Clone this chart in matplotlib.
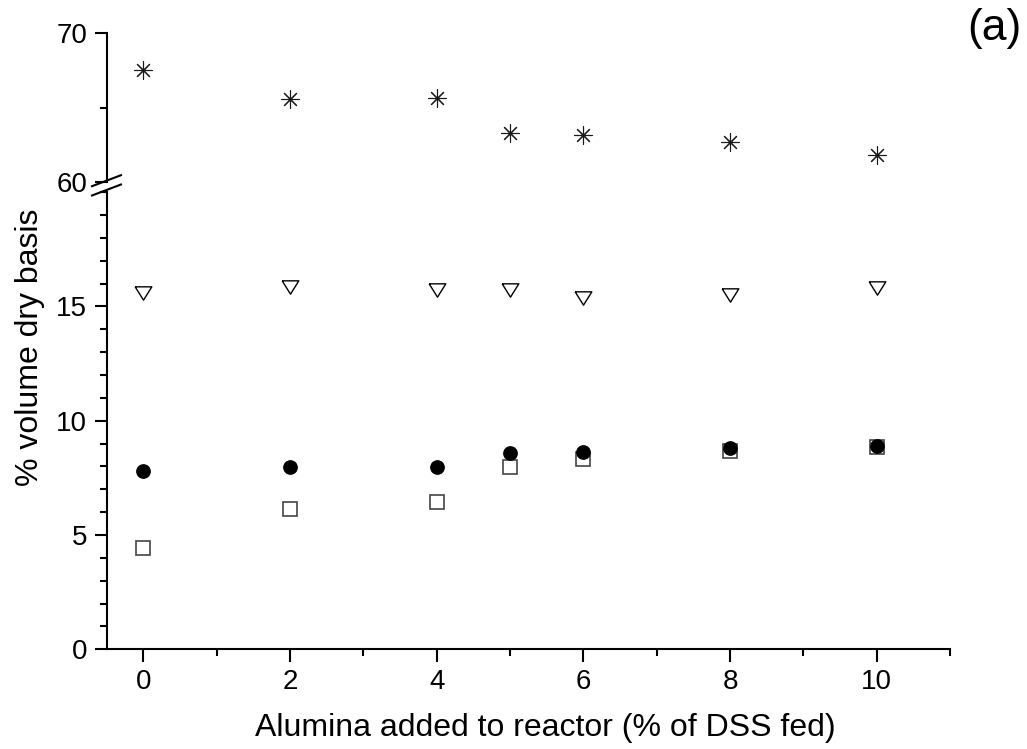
import numpy as np
import matplotlib.pyplot as plt
from matplotlib.lines import Line2D
from matplotlib.ticker import MultipleLocator

plt.rcParams['font.family'] = ['Liberation Sans', 'DejaVu Sans']

# Data
alumina = [0, 2, 4, 5, 6, 8, 10]
stars = [67.53, 65.55, 65.62, 63.26, 63.15, 62.65, 61.80]
triangles = [15.60, 15.83, 15.72, 15.70, 15.35, 15.49, 15.79]
circles = [7.81, 7.99, 7.99, 8.57, 8.62, 8.79, 8.91]
squares = [4.42, 6.14, 6.46, 7.99, 8.34, 8.68, 8.83]

W, H = 1027, 749
fig = plt.figure(figsize=(W / 100, H / 100), dpi=100)

# axes placement in pixels
x0, x1 = 106.7, 950.0
lo_bot, lo_top = 649.3, 192.1
up_bot, up_top = 181.7, 33.3

ax_lo = fig.add_axes([x0 / W, 1 - lo_bot / H, (x1 - x0) / W, (lo_bot - lo_top) / H])
ax_up = fig.add_axes([x0 / W, 1 - up_bot / H, (x1 - x0) / W, (up_bot - up_top) / H],
                     sharex=ax_lo)

tri_marker = [(-1, 0.8), (1, 0.8), (0, -0.8), (-1, 0.8)]

ax_up.plot(alumina, stars, linestyle='none', marker=(8, 2, 0), ms=13,
           mec='#1a1a1a', mew=0.8, clip_on=False)
ax_lo.plot(alumina, triangles, linestyle='none', marker=tri_marker, ms=12,
           mfc='white', mec='black', mew=1.0, clip_on=False)
ax_lo.plot(alumina, squares, linestyle='none', marker='s', ms=10,
           mfc='white', mec='#444444', mew=1.2, clip_on=False)
ax_lo.plot(alumina, circles, linestyle='none', marker='o', ms=9.6,
           color='black', clip_on=False)

ax_lo.set_xlim(-0.5, 11)
ax_lo.set_ylim(0, 20)
ax_up.set_ylim(60, 70)

for ax in (ax_lo, ax_up):
    ax.spines['top'].set_visible(False)
    ax.spines['right'].set_visible(False)
    for s in ax.spines.values():
        s.set_linewidth(1.5)
    ax.tick_params(which='major', direction='out', length=9, width=1.5,
                   labelsize=20, pad=5)
    ax.tick_params(which='minor', direction='out', length=5, width=1.5)

ax_up.spines['bottom'].set_visible(False)
ax_up.tick_params(axis='x', which='both', bottom=False, labelbottom=False)

ax_lo.xaxis.set_minor_locator(MultipleLocator(1))
ax_lo.set_xticks([0, 2, 4, 6, 8, 10])
ax_lo.set_yticks([0, 5, 10, 15])
ax_lo.yaxis.set_minor_locator(MultipleLocator(1))
ax_up.set_yticks([60, 70])
ax_up.yaxis.set_minor_locator(MultipleLocator(5))
ax_up.set_facecolor('none')

# break marks on the y axis
for yc in (180.7, 190.0):
    fig.add_artist(Line2D([92 / W, 121 / W], [1 - (yc + 5.5) / H, 1 - (yc - 5.5) / H],
                          color='black', lw=1.5, transform=fig.transFigure))

fig.text(545 / W, 1 - 728 / H, 'Alumina added to reactor (% of DSS fed)',
         ha='center', va='center', fontsize=23)
fig.text(30 / W, 1 - 347 / H, '% volume dry basis', rotation=90,
         ha='center', va='center', fontsize=23)
fig.text(1022 / W, 1 - 8 / H, '(a)', ha='right', va='top', fontsize=32)

fig.savefig('out.png', dpi=100, facecolor='white')
